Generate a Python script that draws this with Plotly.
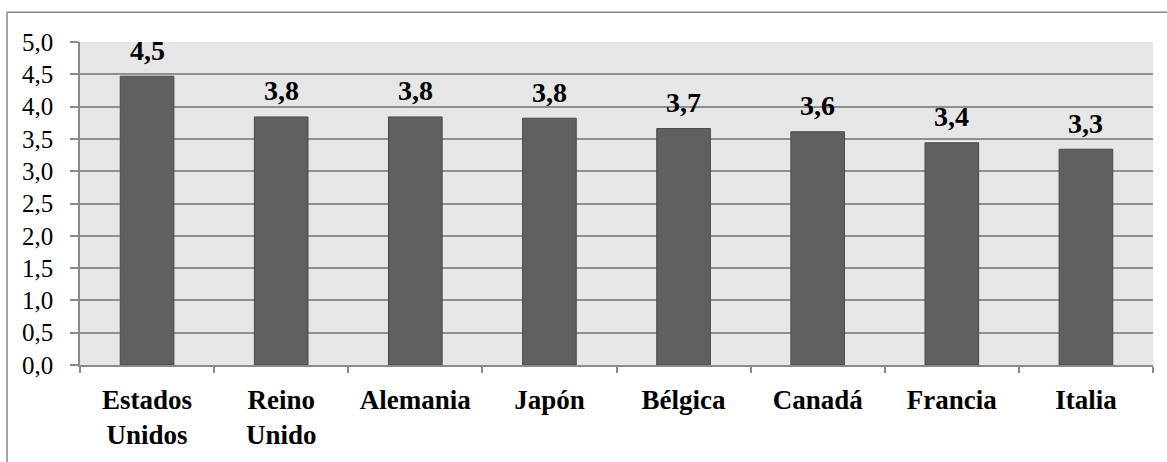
import plotly.graph_objects as go

categories = ["Estados<br>Unidos", "Reino<br>Unido", "Alemania", "Japón", "Bélgica", "Canadá", "Francia", "Italia"]
values = [4.47, 3.84, 3.84, 3.82, 3.66, 3.61, 3.44, 3.34]
y_ticks = [0.0, 0.5, 1.0, 1.5, 2.0, 2.5, 3.0, 3.5, 4.0, 4.5, 5.0]

FONT = "'Liberation Serif', 'Times New Roman', Times, serif"
AX = "#8a8a8a"

fig = go.Figure()
fig.add_trace(go.Bar(
    x=categories, y=values,
    marker=dict(color="#606060", line=dict(color="#4a4a4a", width=1)),
    hoverinfo="skip",
))

for c, v in zip(categories, values):
    fig.add_annotation(
        x=c, y=v, xref="x", yref="y",
        text="<b>" + f"{v:.1f}".replace(".", ",") + "</b>",
        showarrow=False, yanchor="middle", yshift=26,
        font=dict(family=FONT, size=28, color="black"),
    )

# outer chart border (chart-area frame)
fig.add_shape(type="rect", xref="paper", yref="paper",
              x0=-0.068, x1=1.03, y0=-0.35, y1=1.0923,
              line=dict(color="#8a8a8a", width=1.5), fillcolor="rgba(0,0,0,0)", layer="below")

fig.update_layout(
    width=1167, height=462,
    margin=dict(l=80, r=14, t=42, b=95),
    paper_bgcolor="white",
    plot_bgcolor="#e6e6e6",
    bargap=0.6,
    showlegend=False,
    separators=",.",
    font=dict(family=FONT, color="black"),
)
fig.update_xaxes(
    type="category", range=[-0.5, 7.5],
    showgrid=False, showline=True, linecolor=AX, linewidth=1.5,
    ticks="outside", tickson="boundaries", ticklen=6, tickcolor=AX, tickwidth=1.5,
    ticklabelstandoff=10,
    tickfont=dict(family=FONT, size=27, color="black", weight="bold"),
    fixedrange=True,
)
fig.update_yaxes(
    range=[0, 5.0], tickvals=y_ticks, tickformat=".1f",
    showgrid=True, gridcolor="#8f8f8f", gridwidth=1.5,
    showline=True, linecolor=AX, linewidth=1.5,
    ticks="outside", ticklen=8, tickcolor=AX, tickwidth=1.5,
    ticklabelstandoff=12,
    tickfont=dict(family=FONT, size=25, color="black"),
    zeroline=False, fixedrange=True,
)

fig.write_html("out.html", config={"displayModeBar": False})
